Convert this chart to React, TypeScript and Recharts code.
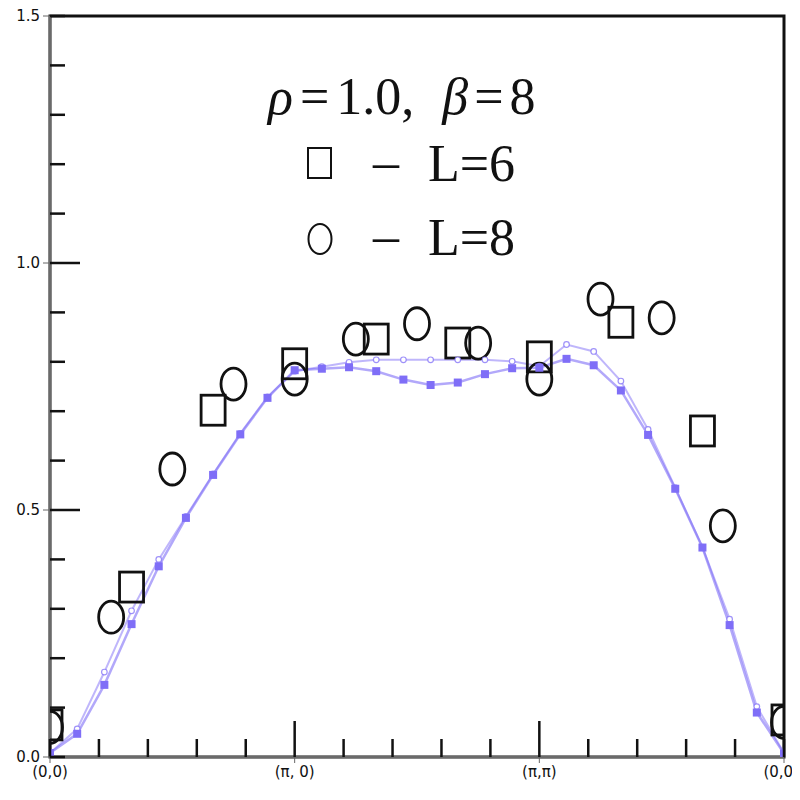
import React from 'react';
import {
  ComposedChart,
  Line,
  Scatter,
  XAxis,
  YAxis,
  ReferenceArea,
} from 'recharts';

// positions along the k-path (0,0) -> (π,0) -> (π,π) -> (0,0), 9 steps per leg
const pathIndex = [
  0, 1, 2, 3, 4, 5, 6, 7, 8, 9, 10, 11, 12, 13, 14, 15, 16, 17, 18, 19, 20, 21, 22, 23, 24, 25, 26, 27,
];
const curveA = [
  0.008, 0.047, 0.146, 0.269, 0.386, 0.484, 0.571, 0.653, 0.727, 0.783, 0.786, 0.789, 0.781, 0.764,
  0.753, 0.758, 0.775, 0.787, 0.788, 0.806, 0.793, 0.742, 0.652, 0.543, 0.424, 0.267, 0.09, 0.007,
];
const curveB = [
  0.008, 0.057, 0.172, 0.296, 0.4, 0.487, 0.573, 0.655, 0.729, 0.781, 0.79, 0.799, 0.804, 0.804,
  0.804, 0.804, 0.804, 0.801, 0.791, 0.835, 0.821, 0.761, 0.663, 0.545, 0.425, 0.279, 0.102, 0.008,
];

// scanned points, L=6 (squares) and L=8 (circles)
const l6Pos = [0, 3, 6, 9, 12, 15, 18, 21, 24, 27];
const l6Val = [0.065, 0.344, 0.702, 0.796, 0.846, 0.838, 0.81, 0.88, 0.66, 0.075];
const l8Pos = [0, 2.25, 4.5, 6.75, 9, 11.25, 13.5, 15.75, 18, 20.25, 22.5, 24.75, 27];
const l8Val = [0.06, 0.283, 0.583, 0.755, 0.765, 0.846, 0.877, 0.838, 0.765, 0.927, 0.889, 0.468, 0.07];

const xTicks = [0, 1.8, 3.6, 5.4, 7.2, 9, 10.8, 12.6, 14.4, 16.2, 18, 19.8, 21.6, 23.4, 25.2, 27];
const xMajor = [0, 9, 18, 27];
const xLabels = ['(0,0)', '(π, 0)', '(π,π)', '(0,0)'];
const yTicks = [0, 0.1, 0.2, 0.3, 0.4, 0.5, 0.6, 0.7, 0.8, 0.9, 1.0, 1.1, 1.2, 1.3, 1.4, 1.5];
const yMajor = [0, 0.5, 1.0, 1.5];

const lineData = pathIndex.map((x, i) => ({ x, a: curveA[i], b: curveB[i] }));
const l6Data = l6Pos.map((x, i) => ({ x, y: l6Val[i] }));
const l8Data = l8Pos.map((x, i) => ({ x, y: l8Val[i] }));

const PURPLE = '#7f6ef7';
const INK = '#111';
const isMajor = (v: number, list: number[]) => list.some((m) => Math.abs(m - v) < 1e-6);

const LeftTick = ({ x, y, payload }: any) => {
  const v = payload.value;
  const major = isMajor(v, yMajor);
  const inner = major && v > 0 && v < 1.5 ? 30 : 15;
  return (
    <g>
      {major && <line x1={x - 7} x2={x} y1={y} y2={y} stroke="#666" />}
      {major && (
        <text x={x - 10} y={y} dy="0.355em" textAnchor="end" fontSize={15} fill="#111">
          {v.toFixed(1)}
        </text>
      )}
      <line x1={x} x2={x + inner} y1={y} y2={y} stroke={INK} strokeWidth={2.5} />
    </g>
  );
};

const RightTick = ({ x, y, payload }: any) => {
  const v = payload.value;
  const inner = isMajor(v, yMajor) && v > 0 && v < 1.5 ? 32 : 16;
  return <line x1={x - inner} x2={x} y1={y} y2={y} stroke={INK} strokeWidth={2.5} />;
};

const BottomTick = ({ x, y, payload }: any) => {
  const v = payload.value;
  const idx = xMajor.findIndex((m) => Math.abs(m - v) < 1e-6);
  const inner = idx === 1 || idx === 2 ? 36 : 18;
  // last label sits at the page edge, so pin its right end inside the view
  const last = idx === xMajor.length - 1;
  return (
    <g>
      {idx >= 0 && <line x1={x} x2={x} y1={y} y2={y + 6} stroke="#666" />}
      {idx >= 0 && (
        <text
          x={last ? x + 15 : x}
          y={y + 9}
          dy="0.71em"
          textAnchor={last ? 'end' : 'middle'}
          fontSize={15}
          fill="#111"
        >
          {xLabels[idx]}
        </text>
      )}
      <line x1={x} x2={x} y1={y - inner} y2={y} stroke={INK} strokeWidth={2.5} />
    </g>
  );
};

const TopTick = ({ x, y, payload }: any) => {
  const v = payload.value;
  const inner = isMajor(v, [9, 18]) ? 30 : 18;
  return <line x1={x} x2={x} y1={y} y2={y + inner} stroke={INK} strokeWidth={2.5} />;
};

const OpenSquare = ({ cx, cy }: any) => (
  <rect x={cx - 12} y={cy - 15} width={24} height={30} fill="none" stroke={INK} strokeWidth={2.8} />
);
const OpenEllipse = ({ cx, cy }: any) => (
  <ellipse cx={cx} cy={cy} rx={12.5} ry={16} fill="none" stroke={INK} strokeWidth={2.8} />
);

const SquareDot = (p: any) => (
  <rect key={`sq-${p.index}`} x={p.cx - 4} y={p.cy - 4} width={8} height={8} fill={PURPLE} />
);
const RingDot = (p: any) => (
  <circle key={`rg-${p.index}`} cx={p.cx} cy={p.cy} r={2.8} fill="#fff" stroke={PURPLE} strokeOpacity={0.75} strokeWidth={1.2} />
);

const serif = { fontFamily: '"Liberation Serif", serif', fontSize: 52, lineHeight: '52px', color: INK, position: 'absolute' as const, whiteSpace: 'nowrap' as const };

function Caption() {
  return (
    <div style={{ position: 'absolute', left: 0, top: 0, pointerEvents: 'none' }}>
      <div style={{ ...serif, left: 260, top: 63 }}>
        <i>ρ</i>
        <span style={{ margin: '0 7px' }}>=</span>1.0,
        <span style={{ marginLeft: 28 }}><i>β</i></span>
        <span style={{ margin: '0 6px' }}>=</span>8
      </div>
      <svg style={{ position: 'absolute', left: 298, top: 138 }} width={30} height={36}>
        <rect x={2} y={2} width={23} height={30} fill="none" stroke={INK} strokeWidth={2} />
      </svg>
      <div style={{ ...serif, left: 365, top: 128 }}>–</div>
      <div style={{ ...serif, left: 420, top: 130 }}>L=6</div>
      <svg style={{ position: 'absolute', left: 298, top: 213 }} width={30} height={38}>
        <ellipse cx={14} cy={18} rx={11.5} ry={15} fill="none" stroke={INK} strokeWidth={2} />
      </svg>
      <div style={{ ...serif, left: 365, top: 202 }}>–</div>
      <div style={{ ...serif, left: 420, top: 204 }}>L=8</div>
    </div>
  );
}

export default function App() {
  return (
    <div style={{ position: 'relative', width: 792, height: 792, fontFamily: '"DejaVu Sans", sans-serif' }}>
      <ComposedChart width={792} height={792} data={lineData} margin={{ top: 8, right: 16, bottom: 0, left: 0 }}>
        <XAxis
          dataKey="x"
          type="number"
          domain={[0, 27]}
          ticks={xTicks}
          interval={0}
          allowDataOverflow
          height={43}
          tickSize={0}
          tickMargin={0}
          tickLine={false}
          axisLine={{ stroke: '#888', strokeWidth: 1.5 }}
          tick={BottomTick}
        />
        <XAxis
          xAxisId="top"
          orientation="top"
          type="number"
          domain={[0, 27]}
          ticks={xTicks}
          interval={0}
          allowDataOverflow
          height={0}
          tickSize={0}
          tickMargin={0}
          tickLine={false}
          axisLine={false}
          tick={TopTick}
        />
        <YAxis
          type="number"
          domain={[0, 1.5]}
          ticks={yTicks}
          interval={0}
          allowDataOverflow
          width={42}
          tickSize={0}
          tickMargin={0}
          tickLine={false}
          axisLine={{ stroke: '#888', strokeWidth: 1.5 }}
          tick={LeftTick}
        />
        <YAxis
          yAxisId="right"
          orientation="right"
          type="number"
          domain={[0, 1.5]}
          ticks={yTicks}
          interval={0}
          allowDataOverflow
          width={0}
          tickSize={0}
          tickMargin={0}
          tickLine={false}
          axisLine={false}
          tick={RightTick}
        />
        <ReferenceArea x1={0} x2={27} y1={0} y2={1.5} fill="none" stroke={INK} strokeWidth={3} />
        <Scatter data={l6Data} dataKey="y" shape={OpenSquare} isAnimationActive={false} />
        <Scatter data={l8Data} dataKey="y" shape={OpenEllipse} isAnimationActive={false} />
        <Line
          dataKey="b"
          stroke={PURPLE}
          strokeOpacity={0.5}
          strokeWidth={2}
          type="linear"
          dot={RingDot}
          activeDot={false}
          isAnimationActive={false}
        />
        <Line
          dataKey="a"
          stroke={PURPLE}
          strokeOpacity={0.6}
          strokeWidth={2.5}
          type="linear"
          dot={SquareDot}
          activeDot={false}
          isAnimationActive={false}
        />
      </ComposedChart>
      <Caption />
    </div>
  );
}
